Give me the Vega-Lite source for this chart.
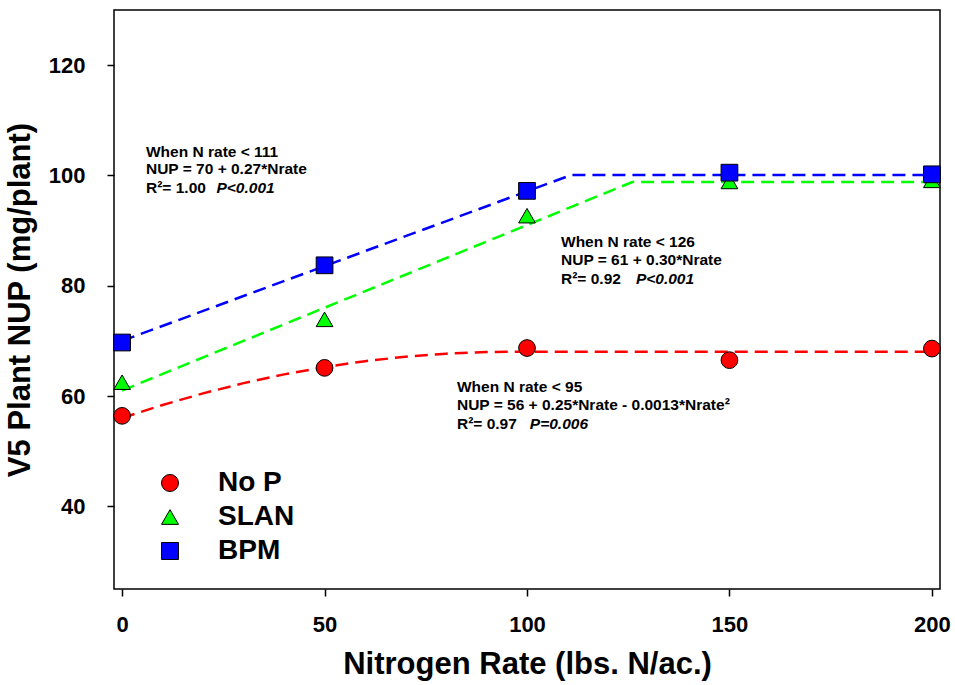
{
  "$schema": "https://vega.github.io/schema/vega-lite/v6.json",
  "autosize": "none",
  "padding": {"left": 114, "top": 10, "right": 15, "bottom": 96},
  "width": 826,
  "height": 579,
  "background": "white",
  "config": {
    "view": {"stroke": "black", "strokeWidth": 1.5},
    "font": "Liberation Sans",
    "axis": {"grid": false, "domain": false, "tickColor": "black", "tickWidth": 1.5, "tickSize": 7,
             "labelFont": "Liberation Sans", "labelFontWeight": "bold", "labelFontSize": 22, "labelColor": "black",
             "titleFont": "Liberation Sans", "titleFontWeight": "bold", "titleFontSize": 31, "titleColor": "black"},
    "legend": {"symbolStrokeColor": "black", "symbolStrokeWidth": 1}
  },
  "datasets": {
    "points": [
      {"series": "No P", "nrate": 0, "nup": 56.4},
      {"series": "No P", "nrate": 50, "nup": 65.1},
      {"series": "No P", "nrate": 100, "nup": 68.7},
      {"series": "No P", "nrate": 150, "nup": 66.5},
      {"series": "No P", "nrate": 200, "nup": 68.6},
      {"series": "SLAN", "nrate": 0, "nup": 62.5},
      {"series": "SLAN", "nrate": 50, "nup": 73.9},
      {"series": "SLAN", "nrate": 100, "nup": 92.7},
      {"series": "SLAN", "nrate": 150, "nup": 98.9},
      {"series": "SLAN", "nrate": 200, "nup": 99.1},
      {"series": "BPM", "nrate": 0, "nup": 69.7},
      {"series": "BPM", "nrate": 50, "nup": 83.7},
      {"series": "BPM", "nrate": 100, "nup": 97.2},
      {"series": "BPM", "nrate": 150, "nup": 100.5},
      {"series": "BPM", "nrate": 200, "nup": 100.2}
    ],
    "fits": [
      {"series": "No P", "nrate": 0, "nup": 56.0},
      {"series": "No P", "nrate": 10, "nup": 58.37},
      {"series": "No P", "nrate": 20, "nup": 60.48},
      {"series": "No P", "nrate": 30, "nup": 62.33},
      {"series": "No P", "nrate": 40, "nup": 63.92},
      {"series": "No P", "nrate": 50, "nup": 65.25},
      {"series": "No P", "nrate": 60, "nup": 66.32},
      {"series": "No P", "nrate": 70, "nup": 67.13},
      {"series": "No P", "nrate": 80, "nup": 67.68},
      {"series": "No P", "nrate": 90, "nup": 67.97},
      {"series": "No P", "nrate": 95, "nup": 68.02},
      {"series": "No P", "nrate": 200, "nup": 68.02},
      {"series": "SLAN", "nrate": 0, "nup": 61.0},
      {"series": "SLAN", "nrate": 126, "nup": 98.8},
      {"series": "SLAN", "nrate": 200, "nup": 98.8},
      {"series": "BPM", "nrate": 0, "nup": 70.0},
      {"series": "BPM", "nrate": 111, "nup": 100.1},
      {"series": "BPM", "nrate": 200, "nup": 100.1}
    ],
    "notes": [
      {"x": 5.9, "y": 104.2, "label": "When N rate < 111", "italic": false},
      {"x": 5.9, "y": 101.1, "label": "NUP = 70 + 0.27*Nrate", "italic": false},
      {"x": 5.9, "y": 97.7, "label": "R²= 1.00", "italic": false},
      {"x": 23.3, "y": 97.7, "label": "P<0.001", "italic": true},
      {"x": 108.4, "y": 88.0, "label": "When N rate < 126", "italic": false},
      {"x": 108.4, "y": 84.7, "label": "NUP = 61 + 0.30*Nrate", "italic": false},
      {"x": 108.4, "y": 81.3, "label": "R²= 0.92", "italic": false},
      {"x": 126.9, "y": 81.3, "label": "P<0.001", "italic": true},
      {"x": 82.7, "y": 61.6, "label": "When N rate < 95", "italic": false},
      {"x": 82.7, "y": 58.4, "label": "NUP = 56 + 0.25*Nrate - 0.0013*Nrate²", "italic": false},
      {"x": 82.7, "y": 54.9, "label": "R²= 0.97", "italic": false},
      {"x": 100.7, "y": 54.9, "label": "P=0.006", "italic": true}
    ]
  },
  "encoding": {
    "x": {"type": "quantitative", "field": "nrate",
          "scale": {"domain": [-2, 202], "nice": false, "zero": false},
          "axis": {"values": [0, 50, 100, 150, 200], "title": "Nitrogen Rate (lbs. N/ac.)", "labelPadding": 18, "titlePadding": 14}},
    "y": {"type": "quantitative", "field": "nup",
          "scale": {"domain": [25, 130], "nice": false, "zero": false},
          "axis": {"values": [40, 60, 80, 100, 120], "title": "V5 Plant NUP (mg/plant)", "labelPadding": 22, "titlePadding": 12}}
  },
  "resolve": {"legend": {"color": "independent", "shape": "independent"}},
  "layer": [
    {
      "data": {"name": "fits"},
      "mark": {"type": "line", "strokeWidth": 2.5, "strokeDash": [13, 7], "interpolate": "linear"},
      "encoding": {
        "color": {"field": "series", "type": "nominal", "scale": {"domain": ["No P", "SLAN", "BPM"], "range": ["#ff0000", "#00ff00", "#0000ff"]}, "legend": null},
        "detail": {"field": "series"}
      }
    },
    {
      "data": {"name": "points"},
      "mark": {"type": "point", "filled": true, "size": 280, "stroke": "black", "strokeWidth": 1, "opacity": 1},
      "encoding": {
        "color": {"field": "series", "type": "nominal", "scale": {"domain": ["No P", "SLAN", "BPM"], "range": ["#ff0000", "#00ff00", "#0000ff"]},
                  "legend": {"title": null, "orient": "none", "legendX": 42, "legendY": 459, "padding": 0,
                             "labelFontSize": 28, "labelFontWeight": "bold", "labelFont": "Liberation Sans", "labelColor": "black",
                             "symbolSize": 290, "symbolStrokeColor": "black", "symbolStrokeWidth": 1, "symbolOpacity": 1,
                             "labelOffset": 34, "rowPadding": 6,
                             "encode": {"symbols": {"update": {"stroke": {"value": "black"}, "strokeWidth": {"value": 1}}}}}},
        "shape": {"field": "series", "type": "nominal", "scale": {"domain": ["No P", "SLAN", "BPM"], "range": ["circle", "triangle-up", "square"]},
                  "legend": {"title": null, "orient": "none", "legendX": 42, "legendY": 459, "padding": 0,
                             "labelFontSize": 28, "labelFontWeight": "bold", "labelFont": "Liberation Sans", "labelColor": "black",
                             "symbolSize": 290, "symbolStrokeColor": "black", "symbolStrokeWidth": 1, "symbolOpacity": 1,
                             "labelOffset": 34, "rowPadding": 6,
                             "encode": {"symbols": {"update": {"stroke": {"value": "black"}, "strokeWidth": {"value": 1}}}}}}
      }
    },
    {
      "data": {"name": "notes"},
      "transform": [{"filter": "!datum.italic"}],
      "mark": {"type": "text", "align": "left", "baseline": "middle", "fontSize": 15.5, "fontWeight": "bold", "font": "Liberation Sans", "color": "black"},
      "encoding": {
        "x": {"field": "x", "type": "quantitative"},
        "y": {"field": "y", "type": "quantitative"},
        "text": {"field": "label"}
      }
    },
    {
      "data": {"name": "notes"},
      "transform": [{"filter": "datum.italic"}],
      "mark": {"type": "text", "align": "left", "baseline": "middle", "fontSize": 15.5, "fontWeight": "bold", "fontStyle": "italic", "font": "Liberation Sans", "color": "black"},
      "encoding": {
        "x": {"field": "x", "type": "quantitative"},
        "y": {"field": "y", "type": "quantitative"},
        "text": {"field": "label"}
      }
    }
  ]
}
